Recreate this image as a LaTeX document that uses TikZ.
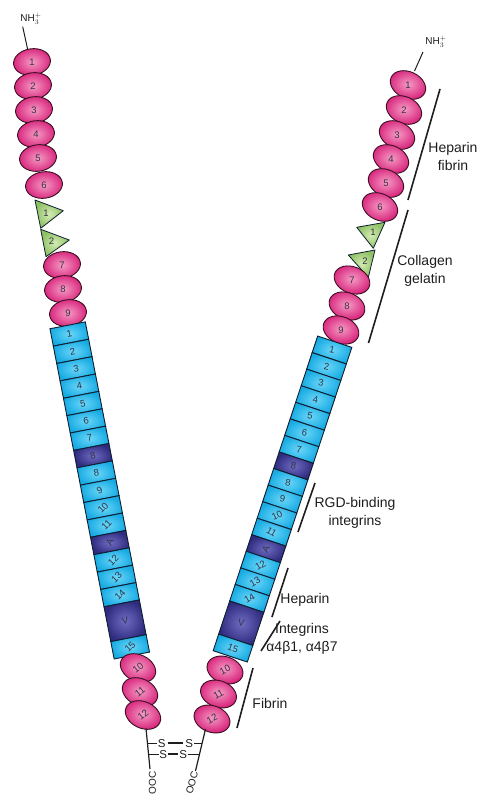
\documentclass[tikz,border=0pt]{standalone}
\usepackage{fontspec}
\setmainfont{Liberation Sans}
\usetikzlibrary{shapes.geometric}
\definecolor{beadlight}{HTML}{F59AC4}
\definecolor{beaddark}{HTML}{D8257C}
\definecolor{beadline}{HTML}{3A1022}
\definecolor{boxlight}{HTML}{6AD6F8}
\definecolor{boxdark}{HTML}{17ABE3}
\definecolor{navylight}{HTML}{6E6CC2}
\definecolor{navydark}{HTML}{2E2A7E}
\definecolor{boxline}{HTML}{0E1E30}
\definecolor{trilight}{HTML}{D4EBB4}
\definecolor{tridark}{HTML}{8DC062}
\definecolor{numgray}{HTML}{333344}
\definecolor{ink}{HTML}{1E1E1E}
\begin{document}
\begin{tikzpicture}[x=1pt,y=-1pt,
  bead/.style={ellipse, draw=beadline, line width=0.9pt, inner color=beadlight,
    outer color=beaddark, minimum width=37pt, minimum height=26.5pt, inner sep=0pt},
  numtxt/.style={font=\fontsize{9.5}{9.5}\selectfont, text=numgray, inner sep=0pt},
  module/.style={rectangle, draw=boxline, line width=0.9pt, minimum width=36pt, inner sep=0pt},
  blu/.style={module, inner color=boxlight, outer color=boxdark},
  drk/.style={module, inner color=navylight, outer color=navydark},
  tri/.style={draw=boxline, line width=0.8pt, line join=round, inner color=trilight, outer color=tridark},
  bar/.style={draw=ink, line width=1.6pt},
  tag/.style={font=\fontsize{14}{18}\selectfont, text=ink, align=center, inner sep=0pt},
  ss/.style={font=\fontsize{11.5}{11.5}\selectfont, text=ink, inner sep=0.5pt},
  term/.style={font=\fontsize{10}{10}\selectfont, text=ink, inner sep=0.5pt}
]
\useasboundingbox (0,0) rectangle (482,796);

% ---------------- left chain ----------------
\node[term] (nhL) at (31,19) {NH$_3^+$};
\foreach \n/\x/\y in {1/32/62, 2/33/86, 3/34/110, 4/36/134, 5/38/158, 6/44/185}
  \node[bead, rotate=8] (eL\n) at (\x,\y) {};
\foreach \n in {1,...,6}
  \node[numtxt] (nL\n) at (eL\n) {\n};
\coordinate (nhLa) at (22.7,26.7);
\coordinate (nhLb) at (27.7,49.5);
\draw[line width=1pt, ink] (nhLa) -- (nhLb);

% fibronectin type II modules (left)
\path[tri] (35,200) -- (63.3,210.7) -- (40.7,228.3) -- cycle;
\path[tri] (40.7,229.3) -- (69.3,240) -- (46,256.7) -- cycle;
\node[numtxt] (tL1) at (46,213) {1};
\node[numtxt] (tL2) at (51.5,241) {2};

\foreach \n/\x/\y in {7/62/265, 8/63/289, 9/68/313}
  \node[bead, rotate=8] (eL\n) at (\x,\y) {};
\foreach \n in {7,8,9}
  \node[numtxt] (nL\n) at (eL\n) {\n};

% type III modules (left)
\foreach \k/\t/\s/\h/\r [count=\i] in {0/1/blu/1/11, 1/2/blu/1/11, 2/3/blu/1/11, 3/4/blu/1/11,
    4/5/blu/1/11, 5/6/blu/1/11, 6/7/blu/1/11, 7/8/drk/1/11, 8/8/blu/1/11, 9/9/blu/1/25,
    10/10/blu/1/45, 11/11/blu/1/45, 12/A/drk/1/60, 13/12/blu/1/45, 14/13/blu/1/45,
    15/14/blu/1/45, 16.5/V/drk/2/11, 18/15/blu/1/45} {
  \pgfmathsetmacro\px{69.3+\k*3.38}
  \pgfmathsetmacro\py{334+\k*17.38}
  \pgfmathsetmacro\hh{17.7*\h}
  \node[\s, rotate=11, minimum height=\hh pt] (bL\i) at (\px,\py) {};
  \node[numtxt, rotate=\r] (qL\i) at (bL\i) {\t};
}

\foreach \n/\x/\y in {10/138/668, 11/140/692, 12/143/715}
  \node[bead, rotate=-25] (eL\n) at (\x,\y) {};
\foreach \n in {10,11,12}
  \node[numtxt, rotate=38] (nL\n) at (eL\n) {\n};

% ---------------- right chain ----------------
\node[term] (nhR) at (436,42) {NH$_3^+$};
\foreach \n/\x/\y in {1/408/85, 2/404/110, 3/397/135, 4/391/159, 5/386/183, 6/380/207}
  \node[bead, rotate=-25] (eR\n) at (\x,\y) {};
\foreach \n in {1,...,6}
  \node[numtxt] (nR\n) at (eR\n) {\n};
\coordinate (nhRa) at (423,52);
\coordinate (nhRb) at (414.5,71);
\draw[line width=1pt, ink] (nhRa) -- (nhRb);

\path[tri] (356.7,227.3) -- (385,222.3) -- (373.3,248.3) -- cycle;
\path[tri] (348.3,255) -- (375,250) -- (368.3,277.3) -- cycle;
\node[numtxt] (tR1) at (373,232.5) {1};
\node[numtxt] (tR2) at (365,261) {2};

\foreach \n/\x/\y in {7/352/280, 8/347/306, 9/341/330}
  \node[bead, rotate=-22] (eR\n) at (\x,\y) {};
\foreach \n in {7,8,9}
  \node[numtxt] (nR\n) at (eR\n) {\n};

% type III modules (right)
\foreach \k/\t/\s/\h/\r [count=\i] in {0/1/blu/1/-10, 1/2/blu/1/-10, 2/3/blu/1/-10, 3/4/blu/1/-10,
    4/5/blu/1/-10, 5/6/blu/1/-10, 6/7/blu/1/-10, 7/8/drk/1/-10, 8/8/blu/1/-10, 9/9/blu/1/-10,
    10/10/blu/1/25, 11/11/blu/1/-30, 12/A/drk/1/60, 13/12/blu/1/30, 14/13/blu/1/30,
    15/14/blu/1/30, 16.5/V/drk/2/-10, 18/15/blu/1/-20} {
  \pgfmathsetmacro\px{332-\k*5.5}
  \pgfmathsetmacro\py{350+\k*16.56}
  \pgfmathsetmacro\hh{17.45*\h}
  \node[\s, rotate=-18.4, minimum height=\hh pt] (bR\i) at (\px,\py) {};
  \node[numtxt, rotate=\r] (qR\i) at (bR\i) {\t};
}

\foreach \n/\x/\y in {10/225/670, 11/218.5/694, 12/212/719}
  \node[bead, rotate=-20] (eR\n) at (\x,\y) {};
\foreach \n in {10,11,12}
  \node[numtxt, rotate=28] (nR\n) at (eR\n) {\n};

% ---------------- C-terminal disulfide bridges ----------------
\coordinate (cLa) at (146,728.5);
\coordinate (cLb) at (150,769);
\coordinate (cRa) at (205.5,729);
\coordinate (cRb) at (195.5,771);
\draw[line width=1.2pt, ink] (cLa) -- (cLb);
\draw[line width=1.2pt, ink] (cRa) -- (cRb);
\coordinate (kL1) at (147.5,743.3);
\coordinate (kL2) at (148.6,754.3);
\coordinate (kR1) at (202,743.3);
\coordinate (kR2) at (199.3,754.3);
\node[ss] (sA) at (161.7,743.3) {S};
\node[ss] (sB) at (189.3,743.3) {S};
\node[ss] (sC) at (163.3,754.3) {S};
\node[ss] (sD) at (183.3,754.3) {S};
\draw[line width=1.1pt, ink] (kL1) -- (sA);
\draw[line width=1.1pt, ink] (kL2) -- (sC);
\draw[line width=1.1pt, ink] (sB) -- (kR1);
\draw[line width=1.1pt, ink] (sD) -- (kR2);
\draw[line width=1.7pt, ink, shorten <=1.5pt, shorten >=1.5pt] (sA) -- (sB);
\draw[line width=1.7pt, ink, shorten <=0.5pt, shorten >=0.5pt] (sC) -- (sD);
\node[term, rotate=90] (cooL) at (152.5,783) {OOC};
\node[term, rotate=75] (cooR) at (192,783) {OOC};

% ---------------- binding-site bars and labels ----------------
\coordinate (b1a) at (440,89);
\coordinate (b1b) at (408,200);
\coordinate (b2a) at (408,210);
\coordinate (b2b) at (368.5,343);
\coordinate (b3a) at (315,483);
\coordinate (b3b) at (298,532);
\coordinate (b4a) at (288,568);
\coordinate (b4b) at (272,617);
\coordinate (b5a) at (280,621);
\coordinate (b5b) at (261,651);
\coordinate (b6a) at (253,668);
\coordinate (b6b) at (237,728);
\foreach \j in {1,...,6}
  \draw[bar] (b\j a) -- (b\j b);

\node[tag] (lab1) at (453,156) {Heparin\\fibrin};
\node[tag] (lab2) at (425,271) {Collagen\\gelatin};
\node[tag] (lab3) at (355,513) {RGD-binding\\integrins};
\node[tag] (lab4) at (305,600) {Heparin};
\node[tag] (lab5) at (302,639) {Integrins\\α4β1, α4β7};
\node[tag] (lab6) at (270,703) {Fibrin};
\end{tikzpicture}
\end{document}
